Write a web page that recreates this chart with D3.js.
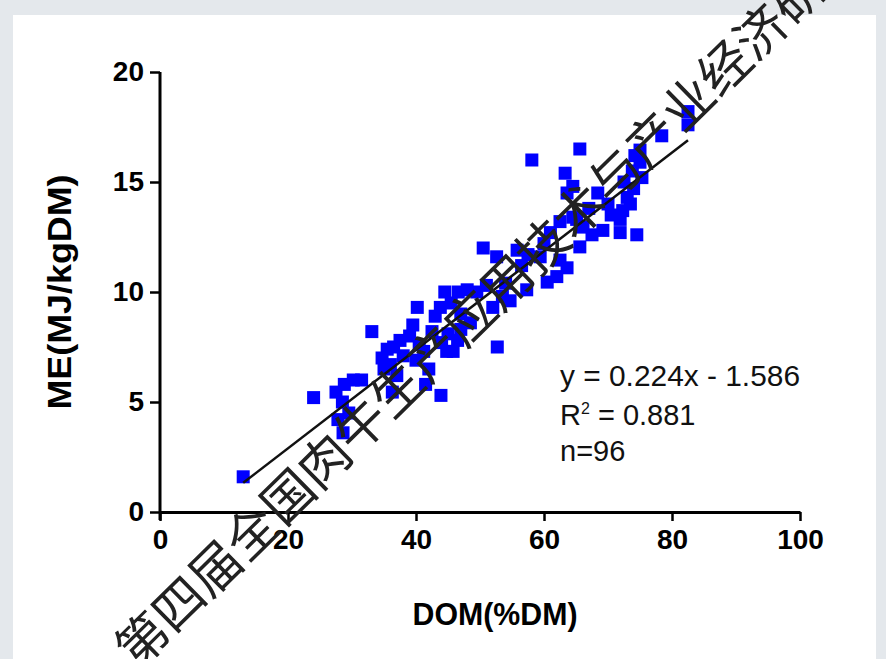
<!DOCTYPE html>
<html><head><meta charset="utf-8">
<script src="https://cdn.jsdelivr.net/npm/d3@7"></script>
<style>
html,body{margin:0;padding:0;background:#e4e8ec;}
svg{display:block;}
</style></head>
<body>
<svg id="chart" width="886" height="659"></svg>
<script>
// DOM (%DM)
const domValues = [13.0,24.0,27.5,28.8,30.2,31.5,27.8,28.6,29.5,28.5,
  33.1,34.7,35.5,36.5,37.5,38.0,36.0,35.0,37.0,36.3,
  39.5,40.2,39.0,40.5,41.2,42.0,41.5,40.0,43.9,43.8,
  44.5,46.6,43.0,42.5,44.0,45.0,45.8,46.5,44.8,47.0,
  45.5,48.0,47.0,48.5,52.7,50.5,52.6,49.5,51.0,52.0,
  53.5,54.7,54.0,55.8,57.3,56.5,57.5,58.1,59.4,60.5,
  62.0,62.5,63.6,61.0,60.0,62.5,64.5,65.1,63.3,63.6,
  64.5,65.6,65.6,66.1,67.5,69.2,68.4,67.0,70.0,71.9,
  72.3,71.9,73.0,73.5,72.5,74.5,74.2,75.0,75.0,75.3,
  73.8,70.5,78.4,82.5,82.5,74.0];
// ME (MJ/kgDM)
const meValues = [1.6,5.2,5.45,5.8,6.0,6.0,4.2,3.6,4.5,5.0,
  8.2,7.0,7.4,7.5,7.8,7.1,6.7,6.5,6.2,5.45,
  8.5,9.3,8.0,7.6,7.3,6.5,5.8,6.9,5.3,9.3,
  10.0,10.0,8.9,8.2,7.7,8.1,7.3,7.8,7.3,8.3,
  9.5,10.1,9.0,8.6,7.5,12.0,11.6,10.0,10.3,9.3,
  9.8,9.6,10.4,11.9,10.1,11.2,11.7,16.0,11.6,10.45,
  10.7,11.45,11.1,12.7,12.2,13.2,13.4,13.3,15.4,14.5,
  14.8,16.5,12.05,12.95,12.6,12.8,14.5,13.8,14.0,13.3,
  13.7,12.7,14.3,14.0,15.0,12.6,16.2,16.45,15.9,15.2,
  15.5,13.5,17.1,18.2,17.6,14.7];
const xTicks = [0,20,40,60,80,100];
const yTicks = [0,5,10,15,20];
const slope = 0.224, intercept = -1.586;
const statLines = ["y = 0.224x - 1.586", "R2 = 0.881", "n=96"];
const xTitle = "DOM(%DM)";
const yTitle = "ME(MJ/kgDM)";
const watermark = "第四届全国肉牛生产应用技术与产业经济研讨会";

const points = domValues.map((d,i)=>({x:d, y:meValues[i]}));
const svg = d3.select("#chart");

// background panel
svg.append("rect").attr("x",0).attr("y",0).attr("width",886).attr("height",659).attr("fill","#e4e8ec");
svg.append("rect").attr("x",13).attr("y",15).attr("width",863).attr("height",660).attr("fill","#ffffff");

const x = d3.scaleLinear().domain([0,100]).range([160,800]);
const y = d3.scaleLinear().domain([0,20]).range([512,72]);

const font = "'Liberation Sans', Arial, Helvetica, sans-serif";

// axes
const xAxis = svg.append("g").attr("transform","translate(0,512)")
  .call(d3.axisBottom(x).tickValues(xTicks).tickSize(9).tickSizeOuter(0).tickPadding(8));
const yAxis = svg.append("g").attr("transform","translate(160,0)")
  .call(d3.axisLeft(y).tickValues(yTicks).tickSize(10).tickSizeOuter(0).tickPadding(6));
[xAxis,yAxis].forEach(g=>{
  g.select(".domain").attr("stroke","#000").attr("stroke-width",3);
  g.selectAll(".tick line").attr("stroke","#000").attr("stroke-width",2.5);
  g.selectAll(".tick text").attr("fill","#000").style("font-family",font)
   .style("font-size","28px").style("font-weight","bold");
});
// extend y-axis slightly below zero like the reference
yAxis.select(".domain").attr("d", `M0,${y(20)}V${y(0)+8}`);

// points
svg.append("g").selectAll("rect").data(points).join("rect")
  .attr("x",d=>x(d.x)-6.5).attr("y",d=>y(d.y)-6.5)
  .attr("width",13).attr("height",13).attr("fill","#0000ff");

// regression line
const xr = d3.extent(domValues);
svg.append("line")
  .attr("x1",x(xr[0])).attr("y1",y(slope*xr[0]+intercept))
  .attr("x2",x(xr[1])).attr("y2",y(slope*xr[1]+intercept))
  .attr("stroke","#111").attr("stroke-width",2.5);

// stats text
const st = svg.append("g").style("font-family",font).style("font-size","29px").attr("fill","#111");
st.append("text").attr("x",560).attr("y",386).attr("textLength",240).attr("lengthAdjust","spacingAndGlyphs").text(statLines[0]);
const r2 = st.append("text").attr("x",560).attr("y",425);
r2.append("tspan").text("R");
r2.append("tspan").attr("dy",-11).style("font-size","16px").text("2");
r2.append("tspan").attr("dy",11).text(" = 0.881");
st.append("text").attr("x",560).attr("y",461).text(statLines[2]);

// axis titles
svg.append("text").attr("x",495).attr("y",625).attr("text-anchor","middle")
  .style("font-family",font).style("font-size","31px").style("font-weight","bold")
  .attr("textLength",165).attr("lengthAdjust","spacingAndGlyphs").text(xTitle);
svg.append("text").attr("transform","translate(71,292) rotate(-90)").attr("text-anchor","middle")
  .style("font-family",font).style("font-size","33px").style("font-weight","bold")
  .attr("textLength",235).attr("lengthAdjust","spacingAndGlyphs").text(yTitle);

// watermark
svg.append("text").attr("transform","translate(122,655) rotate(-44.5)")
  .attr("dominant-baseline","central")
  .style("font-family","'Noto Sans CJK SC', sans-serif").style("font-size","51px")
  .style("font-weight","400").attr("fill","#222").text(watermark);
</script>
</body></html>
